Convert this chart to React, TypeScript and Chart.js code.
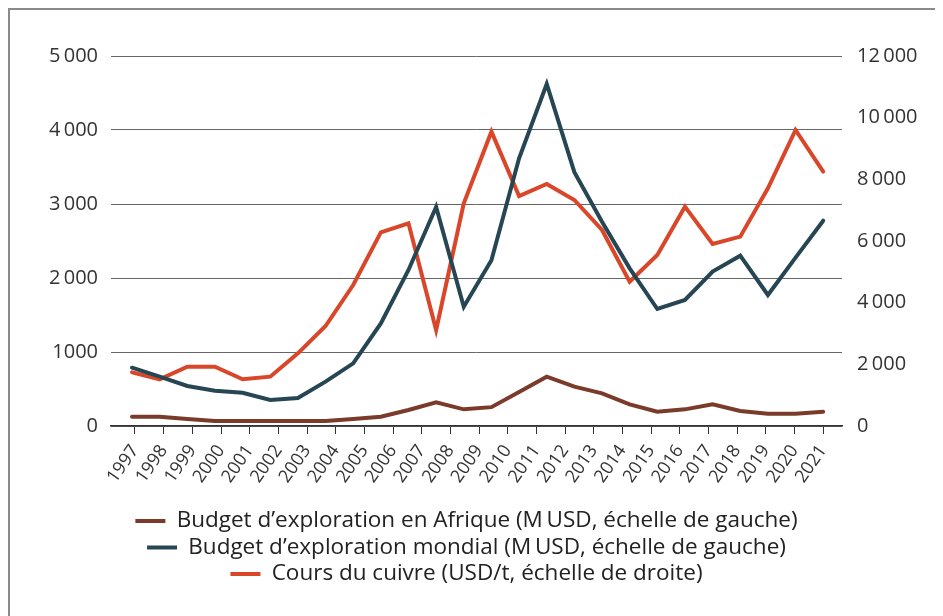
import React, { useEffect, useRef } from "react";
import { Chart, registerables } from "chart.js";

Chart.register(...registerables);

// Category (year) labels shown on the horizontal axis
const yearLabels = [
  "1997", "1998", "1999", "2000", "2001", "2002", "2003", "2004", "2005",
  "2006", "2007", "2008", "2009", "2010", "2011", "2012", "2013", "2014",
  "2015", "2016", "2017", "2018", "2019", "2020", "2021",
];

// Series values (26 vertices per line)
const africaBudget = [
  126, 126, 95, 68, 68, 68, 68, 68, 95, 126, 216, 320, 225,
  255, 460, 666, 532, 441, 293, 194, 225, 293, 203, 167, 167, 194,
];
const worldBudget = [
  788, 666, 541, 477, 450, 351, 378, 599, 847, 1387, 2108, 2960, 1612,
  2240, 3617, 4622, 3430, 2760, 2130, 1581, 1703, 2086, 2302, 1770, 2275, 2774,
];
const copperPrice = [
  1741, 1515, 1924, 1924, 1515, 1600, 2357, 3243, 4573, 6281, 6573, 3113, 7222,
  9546, 7459, 7849, 7330, 6357, 4681, 5546, 7114, 5903, 6141, 7708, 9600, 8249,
];

const seriesNames = [
  "Budget d\u2019exploration en Afrique (M\u2009USD, \u00e9chelle de gauche)",
  "Budget d\u2019exploration mondial (M\u2009USD, \u00e9chelle de gauche)",
  "Cours du cuivre (USD/t, \u00e9chelle de droite)",
];

const leftTickValues = [0, 1000, 2000, 3000, 4000, 5000];
const leftTickText = ["0", "1000", "2\u2009000", "3\u2009000", "4\u2009000", "5\u2009000"];
const rightTickValues = [0, 2000, 4000, 6000, 8000, 10000, 12000];
const rightTickText = ["0", "2\u2009000", "4\u2009000", "6\u2009000", "8\u2009000", "10\u2009000", "12\u2009000"];

const FONT = "'Open Sans', 'DejaVu Sans', sans-serif";

export default function App() {
  const canvasRef = useRef<HTMLCanvasElement | null>(null);

  useEffect(() => {
    if (!canvasRef.current) return;
    const toPoints = (arr: number[]) => arr.map((v, i) => ({ x: i, y: v }));
    const chart = new Chart(canvasRef.current, {
      type: "line",
      data: {
        datasets: [
          {
            label: seriesNames[0],
            data: toPoints(africaBudget),
            borderColor: "#7b3b2a",
            backgroundColor: "#7b3b2a",
            borderWidth: 4,
            pointRadius: 0,
            tension: 0,
            borderCapStyle: "round",
            xAxisID: "x",
            yAxisID: "yLeft",
          },
          {
            label: seriesNames[1],
            data: toPoints(worldBudget),
            borderColor: "#264653",
            backgroundColor: "#264653",
            borderWidth: 4,
            pointRadius: 0,
            tension: 0,
            borderCapStyle: "round",
            xAxisID: "x",
            yAxisID: "yLeft",
          },
          {
            label: seriesNames[2],
            data: toPoints(copperPrice),
            borderColor: "#d9462a",
            backgroundColor: "#d9462a",
            borderWidth: 4,
            pointRadius: 0,
            tension: 0,
            borderCapStyle: "round",
            xAxisID: "x",
            yAxisID: "yRight",
          },
        ],
      },
      options: {
        animation: false,
        responsive: true,
        maintainAspectRatio: false,
        layout: { padding: { top: 46, bottom: 20.75, left: 0, right: 20 } },
        plugins: {
          tooltip: { enabled: false },
          legend: {
            position: "bottom",
            align: "center",
            labels: {
              usePointStyle: true,
              pointStyle: "line",
              pointStyleWidth: 30,
              padding: 4,
              color: "#222",
              font: { family: FONT, size: 22.5 },
            },
          },
        },
        scales: {
          x: {
            type: "linear",
            display: false,
            min: -0.76,
            max: 25.68,
          },
          xYears: {
            type: "linear",
            position: "bottom",
            min: -0.837,
            max: 24.66,
            afterBuildTicks: (scale: any) => {
              scale.ticks = yearLabels.map((_, i) => ({ value: i }));
            },
            afterFit: (scale: any) => {
              scale.height = 79.75;
            },
            grid: {
              display: true,
              drawOnChartArea: false,
              drawTicks: true,
              tickLength: 8,
              color: "#333",
              lineWidth: 1,
            },
            border: { display: true, color: "#333", width: 1.5 },
            ticks: {
              autoSkip: false,
              minRotation: 55,
              maxRotation: 55,
              padding: 7,
              color: "#333",
              font: { family: FONT, size: 18 },
              callback: (value: any) => yearLabels[Math.round(Number(value))] ?? "",
            },
          },
          yLeft: {
            type: "linear",
            position: "left",
            min: 0,
            max: 5000,
            afterBuildTicks: (scale: any) => {
              scale.ticks = leftTickValues.map((v) => ({ value: v }));
            },
            afterFit: (scale: any) => {
              scale.width = 101;
            },
            grid: {
              display: true,
              drawTicks: false,
              color: "#666",
              lineWidth: 1,
            },
            border: { display: false },
            ticks: {
              padding: 13,
              color: "#333",
              font: { family: FONT, size: 20 },
              callback: (value: any) => leftTickText[leftTickValues.indexOf(Number(value))] ?? "",
            },
          },
          yRight: {
            type: "linear",
            position: "right",
            min: 0,
            max: 12000,
            afterBuildTicks: (scale: any) => {
              scale.ticks = rightTickValues.map((v) => ({ value: v }));
            },
            afterFit: (scale: any) => {
              scale.width = 81;
            },
            grid: { display: false, drawOnChartArea: false, drawTicks: false },
            border: { display: false },
            ticks: {
              padding: 15,
              color: "#333",
              font: { family: FONT, size: 20 },
              callback: (value: any) => rightTickText[rightTickValues.indexOf(Number(value))] ?? "",
            },
          },
        },
      },
    } as any);
    return () => chart.destroy();
  }, []);

  return (
    <div
      style={{
        width: 935,
        height: 608,
        boxSizing: "border-box",
        borderTop: "2px solid #8a8a8a",
        borderLeft: "2px solid #8a8a8a",
        background: "#fff",
      }}
    >
      <div style={{ position: "relative", width: 933, height: 606 }}>
        <canvas ref={canvasRef} />
      </div>
    </div>
  );
}
